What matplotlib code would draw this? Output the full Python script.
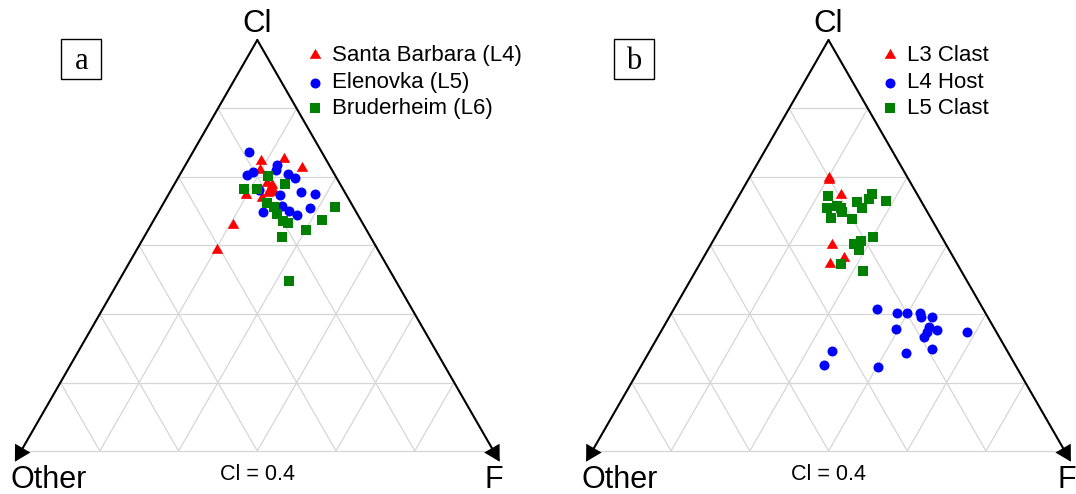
import numpy as np
import matplotlib
matplotlib.use("Agg")
import matplotlib.pyplot as plt
from matplotlib.patches import FancyArrowPatch, Rectangle, ArrowStyle
from matplotlib.lines import Line2D

plt.rcParams["font.family"] = ["Liberation Sans", "DejaVu Sans"]

# ---------------------------------------------------------------------------
# Ternary compositions (Cl, F, Other) of each apatite analysis
# ---------------------------------------------------------------------------
# Panel a
sb_cl = [0.706, 0.710, 0.689, 0.684, 0.623, 0.651, 0.639, 0.631, 0.627, 0.615, 0.647, 0.550, 0.489]
sb_f = [0.155, 0.202, 0.251, 0.164, 0.165, 0.195, 0.209, 0.220, 0.210, 0.202, 0.207, 0.174, 0.170]
sb_other = [0.139, 0.088, 0.060, 0.152, 0.212, 0.154, 0.152, 0.149, 0.163, 0.183, 0.146, 0.276, 0.341]

el_cl = [0.728, 0.696, 0.684, 0.672, 0.680, 0.673, 0.665, 0.635, 0.623, 0.629, 0.625, 0.581, 0.597, 0.584, 0.574, 0.591]
el_f = [0.119, 0.194, 0.198, 0.143, 0.150, 0.229, 0.247, 0.187, 0.237, 0.277, 0.310, 0.222, 0.253, 0.276, 0.298, 0.315]
el_other = [0.153, 0.110, 0.118, 0.185, 0.170, 0.098, 0.088, 0.178, 0.140, 0.094, 0.065, 0.197, 0.150, 0.140, 0.128, 0.094]

br_cl = [0.670, 0.650, 0.637, 0.637, 0.603, 0.594, 0.577, 0.559, 0.554, 0.521, 0.538, 0.562, 0.593, 0.414]
br_f = [0.188, 0.234, 0.153, 0.180, 0.218, 0.238, 0.253, 0.274, 0.287, 0.291, 0.334, 0.355, 0.368, 0.361]
br_other = [0.142, 0.116, 0.210, 0.183, 0.179, 0.168, 0.170, 0.167, 0.159, 0.188, 0.128, 0.083, 0.039, 0.225]

# Panel b
l3_cl = [0.659, 0.664, 0.623, 0.500, 0.470, 0.456]
l3_f = [0.172, 0.168, 0.216, 0.257, 0.298, 0.275]
l3_other = [0.169, 0.168, 0.161, 0.243, 0.232, 0.269]

l4_cl = [0.345, 0.336, 0.335, 0.335, 0.327, 0.327, 0.296, 0.302, 0.290, 0.294, 0.277, 0.289, 0.243, 0.209, 0.205, 0.238, 0.247]
l4_f = [0.430, 0.476, 0.498, 0.526, 0.532, 0.556, 0.495, 0.562, 0.563, 0.583, 0.564, 0.649, 0.386, 0.387, 0.502, 0.544, 0.595]
l4_other = [0.225, 0.188, 0.167, 0.139, 0.141, 0.117, 0.209, 0.136, 0.147, 0.123, 0.159, 0.062, 0.371, 0.404, 0.293, 0.218, 0.158]

l5_cl = [0.620, 0.592, 0.597, 0.592, 0.581, 0.568, 0.564, 0.605, 0.592, 0.612, 0.625, 0.609, 0.504, 0.511, 0.489, 0.520, 0.455, 0.438]
l5_f = [0.188, 0.200, 0.220, 0.230, 0.238, 0.221, 0.268, 0.258, 0.274, 0.280, 0.279, 0.317, 0.302, 0.313, 0.320, 0.334, 0.299, 0.354]
l5_other = [0.192, 0.208, 0.183, 0.178, 0.181, 0.211, 0.168, 0.137, 0.134, 0.108, 0.096, 0.074, 0.194, 0.176, 0.191, 0.146, 0.246, 0.208]

labels_a = ["Santa Barbara (L4)", "Elenovka (L5)", "Bruderheim (L6)"]
labels_b = ["L3 Clast", "L4 Host", "L5 Clast"]
vertex_labels = ["Cl", "Other", "F"]
note_text = "Cl = 0.4"

# ---------------------------------------------------------------------------
# Figure layout (pixel based)
# ---------------------------------------------------------------------------
W, H, DPI = 1076, 494, 100
SQ3 = np.sqrt(3) / 2
SIDE_PX = 472.5          # triangle side length in pixels
SY = 411.0 / SQ3         # vertical pixels per unit
BASE_PY = 451.0          # pixel row of the triangle base

RED, BLUE, GREEN = "#ff0000", "#0000ff", "#008000"
GRID = "#d6d6d6"

tri_marker = [(-1.0, -0.5774), (1.0, -0.5774), (0.0, 1.1547)]
STYLES = [
    dict(marker=tri_marker, color=RED, ms=9.6),
    dict(marker="o", color=BLUE, ms=7.2),
    dict(marker="s", color=GREEN, ms=6.7),
]

fig = plt.figure(figsize=(W / DPI, H / DPI), dpi=DPI)
fig.patch.set_facecolor("white")


def fig_text(px, py, s, **kw):
    return fig.text(px / W, 1 - py / H, s, **kw)


def tern_xy(cl, f, other):
    cl, f, other = (np.asarray(v, dtype=float) for v in (cl, f, other))
    s = cl + f + other
    cl, f = cl / s, f / s
    return f + cl / 2, cl * SQ3


def make_panel(x0, x1, left_vertex_px):
    ax = fig.add_axes([x0 / W, 0, (x1 - x0) / W, 1])
    ax.set_xlim((x0 - left_vertex_px) / SIDE_PX, (x1 - left_vertex_px) / SIDE_PX)
    ax.set_ylim((BASE_PY - H) / SY, BASE_PY / SY)
    ax.axis("off")

    # grid lines at sixths of each component
    n = 6
    for i in range(0, n):
        c = i / n
        segs = [((c, 0, 1 - c), (c, 1 - c, 0))]          # constant Cl
        if i > 0:
            segs.append(((0, c, 1 - c), (1 - c, c, 0)))   # constant F
            segs.append(((0, 1 - c, c), (1 - c, 0, c)))   # constant Other
        for a, b in segs:
            xs, ys = tern_xy([a[0], b[0]], [a[1], b[1]], [a[2], b[2]])
            ax.plot(xs, ys, color=GRID, lw=0.9, zorder=1, solid_capstyle="butt")

    # two black edges ending in arrowheads beyond the base corners
    apex = (0.5, SQ3)
    ext = 0.026
    style = ArrowStyle("-|>", head_length=0.6, head_width=0.34)
    for corner, dx in (((0.0, 0.0), -0.5), ((1.0, 0.0), 0.5)):
        tip = (corner[0] + ext * dx, corner[1] - ext * SQ3)
        arr = FancyArrowPatch(apex, tip, arrowstyle=style, mutation_scale=15,
                              lw=1.5, color="black", shrinkA=0, shrinkB=0,
                              zorder=3, joinstyle="miter")
        ax.add_patch(arr)
    return ax


def draw_panel(ax, series, apex_px, left_px, right_px, legend_labels,
               legend_marker_px, legend_text_px, box_px, box_letter):
    for (cl, f, other), st in zip(series, STYLES):
        x, y = tern_xy(cl, f, other)
        ax.plot(x, y, linestyle="none", marker=st["marker"], color=st["color"],
                ms=st["ms"], mew=0, zorder=4, clip_on=False)

    # vertex labels
    fig_text(apex_px, 32, vertex_labels[0], ha="center", va="baseline", fontsize=22.5)
    fig_text(left_px - 11, 488, vertex_labels[1], ha="left", va="baseline", fontsize=22)
    fig_text(right_px, 488, vertex_labels[2], ha="center", va="baseline", fontsize=22)
    fig_text(apex_px, 480, note_text, ha="center", va="baseline", fontsize=15.5)

    # legend
    for row_py, lab, st in zip((55.3, 82.9, 108.1), legend_labels, STYLES):
        fig.add_artist(Line2D([legend_marker_px / W], [1 - row_py / H],
                              linestyle="none", marker=st["marker"],
                              color=st["color"], ms=st["ms"], mew=0,
                              transform=fig.transFigure))
        fig_text(legend_text_px, row_py, lab, ha="left", va="center", fontsize=16)

    # panel letter in a box
    bx0, by0, bx1, by1 = box_px
    fig.add_artist(Rectangle((bx0 / W, 1 - by1 / H), (bx1 - bx0) / W, (by1 - by0) / H,
                             transform=fig.transFigure, fill=False,
                             edgecolor="black", lw=1.0))
    fig_text((bx0 + bx1) / 2, 69, box_letter, ha="center", va="baseline",
             fontsize=22, family=["Liberation Serif", "DejaVu Serif"])


# panel a
apex_a = 257.3
left_a = apex_a - SIDE_PX / 2
ax_a = make_panel(0, 538, left_a)
draw_panel(ax_a,
           [(sb_cl, sb_f, sb_other), (el_cl, el_f, el_other), (br_cl, br_f, br_other)],
           apex_a, left_a, left_a + SIDE_PX, labels_a, 315.4, 332.3,
           (61.5, 39, 101, 78.8), "a")

# panel b
apex_b = 828.5
left_b = apex_b - SIDE_PX / 2
ax_b = make_panel(538, 1076, left_b)
draw_panel(ax_b,
           [(l3_cl, l3_f, l3_other), (l4_cl, l4_f, l4_other), (l5_cl, l5_f, l5_other)],
           apex_b, left_b, left_b + SIDE_PX + 2, labels_b, 889.9, 906.8,
           (614.3, 39, 654, 78.8), "b")

fig.savefig("out.png", dpi=DPI, facecolor="white")
